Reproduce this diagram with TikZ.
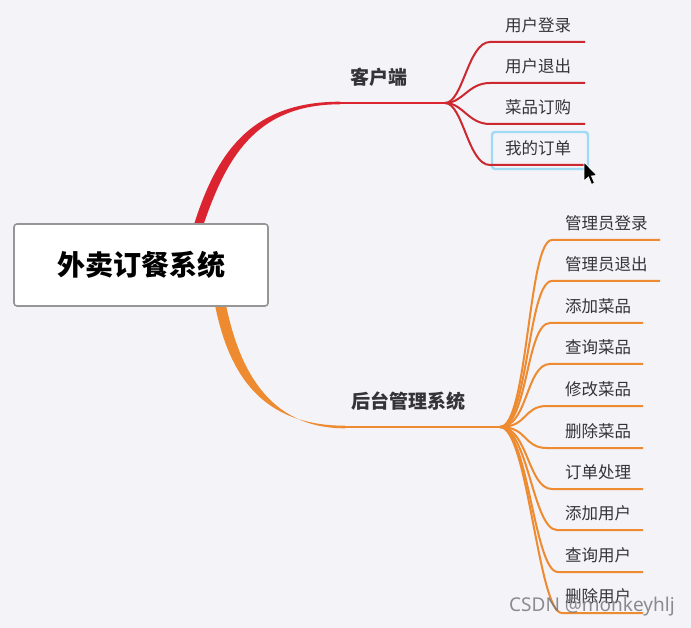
\documentclass[tikz,border=0pt]{standalone}
\usepackage{fontspec}
\setmainfont{Noto Sans CJK SC}
\newfontfamily\wmfont{Noto Sans}
\definecolor{bgc}{RGB}{243,243,248}
\definecolor{redc}{RGB}{220,36,48}
\definecolor{redl}{RGB}{204,40,48}
\definecolor{orc}{RGB}{238,138,47}
\definecolor{txt}{RGB}{52,52,56}
\definecolor{hl}{RGB}{160,218,244}
\tikzset{
  rootbox/.style={draw={rgb,255:red,150;green,150;blue,150}, line width=1.6pt, fill=white, rounded corners=3pt, minimum width=254pt, minimum height=82pt, inner sep=0pt, font=\fontsize{28}{30}\selectfont\bfseries, text=black},
  lvone/.style={font=\fontsize{19}{21}\selectfont\bfseries, text=txt, inner sep=0pt},
  leaf/.style={font=\fontsize{16.5}{18}\selectfont, text=txt, inner sep=0pt, anchor=west},
  redline/.style={draw=redl, line width=2pt},
  orline/.style={draw=orc, line width=2pt},
  mainred/.style={draw=redc, line width=2.6pt},
  mainor/.style={draw=orc, line width=2.6pt},
}
\begin{document}
\begin{tikzpicture}[x=1pt,y=-1pt]
\useasboundingbox (0,0) rectangle (691,628);
\fill[bgc] (0,0) rectangle (691,628);

% coordinates
\coordinate (rj) at (445,103);
\coordinate (rh) at (340,103);
\coordinate (oj) at (500,427);
\coordinate (oh) at (345,427);

% red tapered branch
\fill[redc] (193.5,226) .. controls (215,158) and (247,101.7) .. (340,101.7)
  -- (340,104.3) .. controls (253,104.3) and (225,162) .. (203,226) -- cycle;
\draw[mainred] (rh) -- (rj);

% orange tapered branch
\fill[orc] (215,305) .. controls (229,375) and (262,425.7) .. (345,425.7)
  -- (345,428.3) .. controls (268,428.3) and (239,368) .. (226,305) -- cycle;
\draw[mainor] (oh) -- (oj);

% highlight box
\node[draw=hl, line width=2.4pt, rounded corners=3pt, minimum width=96pt, minimum height=37pt, inner sep=0pt] (hlbox) at (540,150.5) {};

% red children
\foreach \n/\y/\t in {1/42/用户登录, 2/83/用户退出, 3/124/菜品订购, 4/165/我的订单}{
  \coordinate (rs\n) at (490,\y);
  \coordinate (re\n) at (585,\y);
  \draw[redline] (rj) .. controls (463,103) and (468,\y) .. (rs\n) -- (re\n);
  \node[leaf] (rt\n) at (505,\y-17) {\t};
}

% orange children
\foreach \n/\y/\x/\e/\t in {1/240/552/660/管理员登录, 2/281/552/660/管理员退出, 3/323/550/643/添加菜品, 4/364/550/643/查询菜品, 5/406/547/643/修改菜品, 6/448/547/643/删除菜品, 7/489/552/643/订单处理, 8/530/557/643/添加用户, 9/572/558/643/查询用户, 10/613/562/643/删除用户}{
  \coordinate (os\n) at (\x,\y);
  \coordinate (oe\n) at (\e,\y);
  \draw[orline] (oj) .. controls (528,427) and (\x-24,\y) .. (os\n) -- (oe\n);
  \node[leaf] (ot\n) at (565,\y-17) {\t};
}

% level one labels
\node[lvone] (kh) at (379,77) {客户端};
\node[lvone] (ht) at (408,401) {后台管理系统};

% root
\node[rootbox] (root) at (141,265) {外卖订餐系统};

% mouse cursor
\fill[black, draw=white, line width=0.8pt] (584,162) -- (584,181) -- (588.5,177) -- (591.5,184.5) -- (594.5,183) -- (591.5,176) -- (597,175.5) -- cycle;

% watermark
\node[font=\wmfont\fontsize{19}{21}\selectfont, text={rgb,255:red,120;green,120;blue,125}, anchor=west, inner sep=0pt, opacity=0.85] (wm) at (509,607) {CSDN @monkeyhlj};
\end{tikzpicture}
\end{document}
